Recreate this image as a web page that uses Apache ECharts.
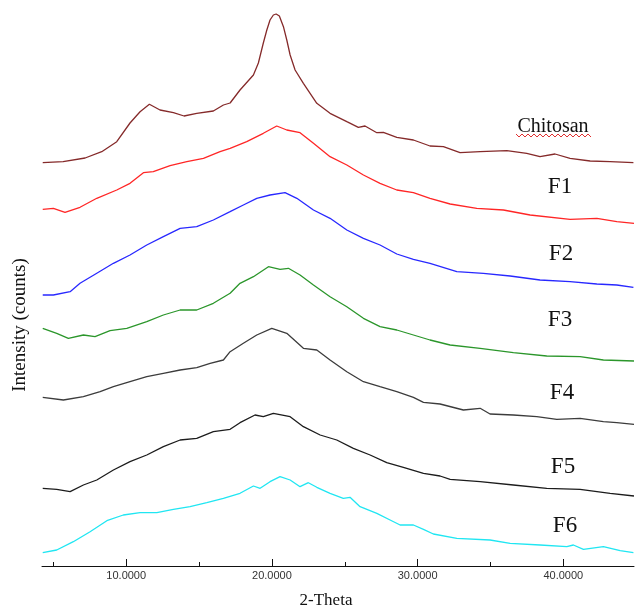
<!DOCTYPE html>
<html>
<head>
<meta charset="utf-8">
<script src="https://cdn.jsdelivr.net/npm/echarts@6/dist/echarts.min.js"></script>
<style>html,body{margin:0;padding:0;background:#fff}#c{width:636px;height:611px}</style>
</head>
<body>
<div id="c"></div>
<script>
// 2-Theta tick labels
const majorTicks = [10, 20, 30, 40];
const minorTicks = [5, 15, 25, 35];
const seriesNames = ['Chitosan', 'F1', 'F2', 'F3', 'F4', 'F5', 'F6'];

// Intensity (arbitrary counts, stacked offsets as drawn)
const chitosanTheta = [4.27,5.67,7.18,8.32,9.35,10.26,10.95,11.59,12.32,13.24,13.97,14.84,15.98,16.67,17.13,17.81,18.73,19.07,19.41,19.65,19.87,20.10,20.29,20.51,20.79,21.02,21.25,21.59,22.16,23.08,23.99,25.14,25.93,26.39,27.20,27.65,28.57,29.71,30.85,31.77,32.91,34.29,36.12,37.49,38.40,39.43,40.46,41.84,43.21,44.81];
const chitosanCounts = [403.3,404.3,408,414.3,424.3,443,454.3,461.7,456,453.3,450,452.7,455,461,463,476,491,503,523,536,546,551,552,550,539.3,526,511,496,482.7,462.7,452.7,444.3,438.7,440,433.3,433.7,428.7,426,420,419.3,413.3,414.3,415.3,412.7,409.3,412,407.7,405,404.3,403.3];

const f1Theta = [4.27,5.00,5.80,6.83,7.98,9.35,10.26,11.18,11.86,13.01,14.16,15.30,16.44,17.13,18.27,19.41,20.33,21.02,21.93,22.85,23.99,25.14,26.28,27.42,28.57,29.71,30.85,32.23,34.06,35.89,37.72,40.46,42.30,43.67,44.85];
const f1Counts = [356.7,357.7,353.7,358.7,367.7,376,382.7,393.3,394.3,400.3,404.3,407.7,414.3,417.7,424.3,432.7,440,436,433.3,422.7,409.3,401,391,382.7,376,373.3,367.7,362,357.7,356,351,346.7,347.7,344.3,342.7];

const f2Theta = [4.27,5.00,6.15,6.83,7.98,9.12,10.26,11.41,12.55,13.70,14.84,15.98,17.13,18.04,18.96,19.87,20.90,21.71,22.85,23.99,25.14,26.28,27.42,28.57,29.71,30.85,32.69,34.51,36.35,38.40,40.46,42.30,43.67,44.81];
const f2Counts = [271,271,274.3,282.7,292.7,302.7,311,321,329.3,337.7,339.3,346,354.3,361,367.7,371,373.3,367.7,356,347.7,336,327.7,321,312,306.7,302.7,294.3,292.7,290,286,284.3,282,281,278.7];

const f3Theta = [4.27,5.23,6.03,7.06,7.86,8.89,10.04,11.41,12.55,13.70,14.84,15.98,17.13,17.81,18.73,19.76,20.56,21.13,21.93,22.85,23.99,25.14,26.28,27.42,28.57,29.71,30.85,32.23,34.29,36.57,38.86,41.15,42.75,44.85];
const f3Counts = [237.7,232.7,227.7,231,229.3,235.3,237.7,244.3,251,256,256,262.7,272.7,282.7,289.3,299.3,296.7,297.7,291,281,269.3,259.3,247.7,239.3,236,231,226,221,217.7,213.3,210,209.3,206,205];

const f4Theta = [4.27,5.69,7.06,8.21,9.12,10.26,11.41,12.55,13.70,14.84,15.76,16.67,17.13,18.04,18.96,19.99,21.02,22.16,23.08,23.99,25.14,26.28,27.42,28.57,29.71,30.40,31.54,33.14,34.29,34.97,36.57,38.18,39.55,41.15,42.75,43.67,44.85];
const f4Counts = [168.7,166,169.3,174.3,179.3,184.3,189.3,192.7,196,198.3,202.7,206,214.3,222.7,231,237.7,232.7,217.7,216,206,194.3,184.3,179.3,174.3,168.7,163.7,162,156,157.7,152,151,149.3,146.7,147.7,144.3,143.3,141.7];

const f5Theta = [4.27,5.23,6.15,7.06,7.98,9.12,10.26,11.41,12.55,13.70,14.84,15.98,17.13,17.81,18.84,19.41,20.10,21.25,22.16,23.31,24.45,25.59,26.74,27.88,29.02,30.40,31.54,32.23,34.29,36.57,38.86,41.15,43.21,44.85];
const f5Counts = [77.7,76.7,74.3,81,86,96,104.3,111,119.3,126,127.7,134.3,136.7,143.3,151,149.3,152.7,149.3,139.3,131,126,117.7,111,103.3,98.7,92.7,90,86.7,84.3,81,77.7,76.7,72.7,70];

const f6Theta = [4.27,5.23,6.37,7.52,8.67,9.80,10.95,12.10,13.24,14.38,15.53,16.67,17.81,18.73,19.19,19.87,20.56,21.25,21.93,22.50,23.08,23.99,24.90,25.36,26.05,27.20,28.11,28.80,29.71,30.40,31.08,32.69,34.97,36.35,38.40,40.24,40.69,41.38,42.75,43.90,44.81];
const f6Counts = [13.3,16,24.3,34.3,45.3,51,53.3,53.3,56.7,59.3,63.3,67.7,72.7,80,77.7,84.3,89.3,86,79.3,83.3,78.7,72.7,67.7,68.7,59.3,52.7,46,41,41,36.7,32,27.7,26,22.7,21,19.3,21,16.7,19.3,15.3,13.3];

const thetas = [chitosanTheta, f1Theta, f2Theta, f3Theta, f4Theta, f5Theta, f6Theta];
const counts = [chitosanCounts, f1Counts, f2Counts, f3Counts, f4Counts, f5Counts, f6Counts];
const colors = ['#852a2a', '#ff2626', '#2828ff', '#2b962b', '#3c3c3c', '#1c1c1c', '#20e6f2'];
const labelPos = [[553,127,20],[560,187,23],[561,254,23],[560,320,23],[562,393,23],[563,467,23],[565,526,23]];

const chart = echarts.init(document.getElementById('c'));
const series = seriesNames.map((n, k) => ({
  name: n, type: 'line', xAxisIndex: 0, yAxisIndex: 0,
  showSymbol: false, symbol: 'none', smooth: false,
  lineStyle: { color: colors[k], width: 1.3 },
  data: thetas[k].map((t, i) => [t, counts[k][i]]),
  z: 3
}));

const graphics = seriesNames.map((n, k) => ({
  type: 'text', x: labelPos[k][0], y: labelPos[k][1],
  style: { text: n, fontFamily: 'Liberation Serif', fontSize: labelPos[k][2], fill: '#111', align: 'center', verticalAlign: 'middle' }
}));
// wavy underline under "Chitosan"
const wave = [];
for (let x = 516; x <= 592; x += 3) wave.push([x, ((x - 516) / 3) % 2 === 0 ? 134 : 137]);
graphics.push({ type: 'polyline', shape: { points: wave }, style: { stroke: '#e03030', lineWidth: 1, fill: null } });
graphics.push({ type: 'text', x: 326, y: 601, style: { text: '2-Theta', fontFamily: 'Liberation Serif', fontSize: 17, fill: '#111', align: 'center', verticalAlign: 'middle' } });
graphics.push({ type: 'text', x: 20, y: 325, rotation: Math.PI / 2, style: { text: 'Intensity (counts)', fontFamily: 'Liberation Serif', fontSize: 19, fill: '#111', align: 'center', verticalAlign: 'middle' } });

chart.setOption({
  animation: false,
  backgroundColor: '#fff',
  grid: { left: 42, right: 2, top: 0, bottom: 45, containLabel: false },
  xAxis: [{
    type: 'value', min: 4.22, max: 44.85,
    axisLine: { show: true, lineStyle: { color: '#111', width: 1 } },
    axisTick: { show: true, inside: true, length: 7, customValues: majorTicks, lineStyle: { color: '#111' } },
    axisLabel: { show: true, customValues: majorTicks, formatter: v => v.toFixed(4), fontFamily: 'Liberation Sans', fontSize: 11, color: '#333', margin: 4 },
    splitLine: { show: false }
  }, {
    type: 'value', min: 4.22, max: 44.85, position: 'bottom',
    axisLine: { show: false },
    axisTick: { show: true, inside: true, length: 4, customValues: minorTicks, lineStyle: { color: '#111' } },
    axisLabel: { show: false },
    splitLine: { show: false }
  }],
  yAxis: { type: 'value', min: 0, max: 566, show: false },
  series: series,
  graphic: graphics
});
</script>
</body>
</html>
